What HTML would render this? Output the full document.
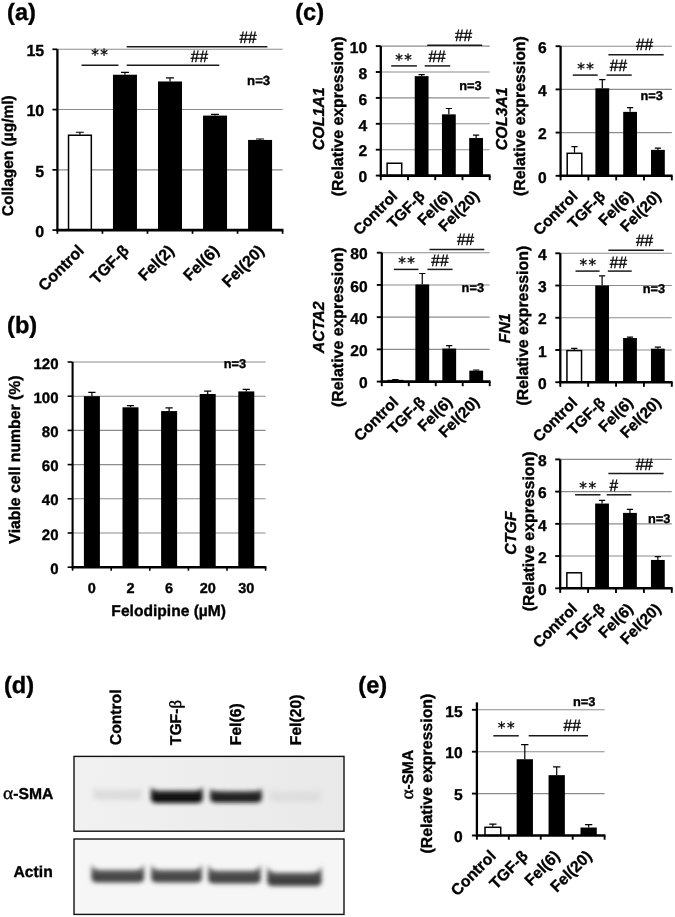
<!DOCTYPE html>
<html><head><meta charset="utf-8"><title>Figure</title>
<style>
html,body{margin:0;padding:0;background:#fff;}
body{width:675px;height:917px;overflow:hidden;}
svg{display:block;font-family:'Liberation Sans', Arial, Helvetica, sans-serif;fill:#000;text-rendering:geometricPrecision;}
svg text{stroke:#000;stroke-width:0.35px;paint-order:stroke;}
</style></head>
<body>
<svg width="675" height="917" viewBox="0 0 675 917">
<rect width="675" height="917" fill="#fff"/>
<text x="7.10" y="19.70" font-size="23.6" font-weight="bold">(a)</text>
<text x="7.10" y="332.90" font-size="23.6" font-weight="bold">(b)</text>
<text x="295.20" y="19.90" font-size="23.6" font-weight="bold">(c)</text>
<text x="4.00" y="693.10" font-size="23.6" font-weight="bold">(d)</text>
<text x="358.30" y="693.20" font-size="23.6" font-weight="bold">(e)</text>
<line x1="57.40" y1="169.83" x2="282.60" y2="169.83" stroke="#8c8c8c" stroke-width="1.1"/>
<line x1="57.40" y1="109.57" x2="282.60" y2="109.57" stroke="#8c8c8c" stroke-width="1.1"/>
<line x1="57.40" y1="49.30" x2="282.60" y2="49.30" stroke="#8c8c8c" stroke-width="1.1"/>
<rect x="68.52" y="135.24" width="22.80" height="94.86" fill="#fff" stroke="#000" stroke-width="1.5"/>
<path d="M79.92 134.64V132.23M75.92 132.23H83.92" stroke="#000" stroke-width="1.2" fill="none"/>
<rect x="112.96" y="74.73" width="24.00" height="155.37" fill="#000"/>
<path d="M124.96 74.73V72.32M120.96 72.32H128.96" stroke="#000" stroke-width="1.2" fill="none"/>
<rect x="158.00" y="81.48" width="24.00" height="148.62" fill="#000"/>
<path d="M170.00 81.48V77.87M166.00 77.87H174.00" stroke="#000" stroke-width="1.2" fill="none"/>
<rect x="203.04" y="115.59" width="24.00" height="114.51" fill="#000"/>
<path d="M215.04 115.59V114.39M211.04 114.39H219.04" stroke="#000" stroke-width="1.2" fill="none"/>
<rect x="248.08" y="139.94" width="24.00" height="90.16" fill="#000"/>
<path d="M260.08 139.94V138.98M256.08 138.98H264.08" stroke="#000" stroke-width="1.2" fill="none"/>
<line x1="57.40" y1="49.30" x2="57.40" y2="231.20" stroke="#000" stroke-width="2.3"/>
<line x1="56.30" y1="230.10" x2="283.40" y2="230.10" stroke="#000" stroke-width="2.5999999999999996"/>
<line x1="52.40" y1="230.10" x2="57.40" y2="230.10" stroke="#000" stroke-width="1.7"/>
<text x="44.20" y="236.98" font-size="16" font-weight="bold" text-anchor="end">0</text>
<line x1="52.40" y1="169.83" x2="57.40" y2="169.83" stroke="#000" stroke-width="1.7"/>
<text x="44.20" y="176.71" font-size="16" font-weight="bold" text-anchor="end">5</text>
<line x1="52.40" y1="109.57" x2="57.40" y2="109.57" stroke="#000" stroke-width="1.7"/>
<text x="44.20" y="116.45" font-size="16" font-weight="bold" text-anchor="end">10</text>
<line x1="52.40" y1="49.30" x2="57.40" y2="49.30" stroke="#000" stroke-width="1.7"/>
<text x="44.20" y="56.18" font-size="16" font-weight="bold" text-anchor="end">15</text>
<line x1="57.40" y1="230.10" x2="57.40" y2="233.80" stroke="#000" stroke-width="1.7"/>
<line x1="102.44" y1="230.10" x2="102.44" y2="233.80" stroke="#000" stroke-width="1.7"/>
<line x1="147.48" y1="230.10" x2="147.48" y2="233.80" stroke="#000" stroke-width="1.7"/>
<line x1="192.52" y1="230.10" x2="192.52" y2="233.80" stroke="#000" stroke-width="1.7"/>
<line x1="237.56" y1="230.10" x2="237.56" y2="233.80" stroke="#000" stroke-width="1.7"/>
<line x1="282.60" y1="230.10" x2="282.60" y2="233.80" stroke="#000" stroke-width="1.7"/>
<text transform="translate(84.92 251.70) rotate(-45)" font-size="16" font-weight="bold" text-anchor="end">Control</text>
<text transform="translate(129.96 251.70) rotate(-45)" font-size="16" font-weight="bold" text-anchor="end">TGF-β</text>
<text transform="translate(175.00 251.70) rotate(-45)" font-size="16" font-weight="bold" text-anchor="end">Fel(2)</text>
<text transform="translate(220.04 251.70) rotate(-45)" font-size="16" font-weight="bold" text-anchor="end">Fel(6)</text>
<text transform="translate(265.08 251.70) rotate(-45)" font-size="16" font-weight="bold" text-anchor="end">Fel(20)</text>
<line x1="81.50" y1="65.20" x2="118.50" y2="65.20" stroke="#1a1a1a" stroke-width="1.5"/>
<line x1="126.70" y1="65.20" x2="219.30" y2="65.20" stroke="#1a1a1a" stroke-width="1.5"/>
<line x1="126.70" y1="46.70" x2="267.40" y2="46.70" stroke="#1a1a1a" stroke-width="1.5"/>
<text x="91.25" y="59.55" font-size="15.2" letter-spacing="1.5" stroke="#000" stroke-width="0.45" font-family="'DejaVu Sans', sans-serif">**</text>
<text transform="translate(190.80 61.60) scale(1 1.07)" font-size="15.5" stroke="#000" stroke-width="0.4">##</text>
<text transform="translate(239.50 43.30) scale(1 1.07)" font-size="15.5" stroke="#000" stroke-width="0.4">##</text>
<text x="247.10" y="85.30" font-size="13.2" font-weight="bold">n=3</text>
<text transform="translate(12.60 155.70) rotate(-90)" font-size="15.5" font-weight="bold" text-anchor="middle">Collagen (µg/ml)</text>
<line x1="72.60" y1="533.00" x2="265.60" y2="533.00" stroke="#8c8c8c" stroke-width="1.1"/>
<line x1="72.60" y1="498.80" x2="265.60" y2="498.80" stroke="#8c8c8c" stroke-width="1.1"/>
<line x1="72.60" y1="464.60" x2="265.60" y2="464.60" stroke="#8c8c8c" stroke-width="1.1"/>
<line x1="72.60" y1="430.40" x2="265.60" y2="430.40" stroke="#8c8c8c" stroke-width="1.1"/>
<line x1="72.60" y1="396.20" x2="265.60" y2="396.20" stroke="#8c8c8c" stroke-width="1.1"/>
<line x1="72.60" y1="362.00" x2="265.60" y2="362.00" stroke="#8c8c8c" stroke-width="1.1"/>
<rect x="83.90" y="396.20" width="16.00" height="171.00" fill="#000"/>
<path d="M91.90 396.20V392.44M88.30 392.44H95.50" stroke="#000" stroke-width="1.2" fill="none"/>
<rect x="122.50" y="407.31" width="16.00" height="159.89" fill="#000"/>
<path d="M130.50 407.31V405.61M126.90 405.61H134.10" stroke="#000" stroke-width="1.2" fill="none"/>
<rect x="161.10" y="411.08" width="16.00" height="156.12" fill="#000"/>
<path d="M169.10 411.08V407.83M165.50 407.83H172.70" stroke="#000" stroke-width="1.2" fill="none"/>
<rect x="199.70" y="393.98" width="16.00" height="173.22" fill="#000"/>
<path d="M207.70 393.98V391.07M204.10 391.07H211.30" stroke="#000" stroke-width="1.2" fill="none"/>
<rect x="238.30" y="391.41" width="16.00" height="175.79" fill="#000"/>
<path d="M246.30 391.41V389.36M242.70 389.36H249.90" stroke="#000" stroke-width="1.2" fill="none"/>
<line x1="72.60" y1="362.00" x2="72.60" y2="568.30" stroke="#000" stroke-width="2.1"/>
<line x1="71.50" y1="567.20" x2="266.40" y2="567.20" stroke="#000" stroke-width="2.4"/>
<line x1="67.60" y1="567.20" x2="72.60" y2="567.20" stroke="#000" stroke-width="1.6"/>
<text x="58.50" y="573.73" font-size="15" font-weight="bold" text-anchor="end">0</text>
<line x1="67.60" y1="533.00" x2="72.60" y2="533.00" stroke="#000" stroke-width="1.6"/>
<text x="58.50" y="539.53" font-size="15" font-weight="bold" text-anchor="end">20</text>
<line x1="67.60" y1="498.80" x2="72.60" y2="498.80" stroke="#000" stroke-width="1.6"/>
<text x="58.50" y="505.32" font-size="15" font-weight="bold" text-anchor="end">40</text>
<line x1="67.60" y1="464.60" x2="72.60" y2="464.60" stroke="#000" stroke-width="1.6"/>
<text x="58.50" y="471.12" font-size="15" font-weight="bold" text-anchor="end">60</text>
<line x1="67.60" y1="430.40" x2="72.60" y2="430.40" stroke="#000" stroke-width="1.6"/>
<text x="58.50" y="436.92" font-size="15" font-weight="bold" text-anchor="end">80</text>
<line x1="67.60" y1="396.20" x2="72.60" y2="396.20" stroke="#000" stroke-width="1.6"/>
<text x="58.50" y="402.72" font-size="15" font-weight="bold" text-anchor="end">100</text>
<line x1="67.60" y1="362.00" x2="72.60" y2="362.00" stroke="#000" stroke-width="1.6"/>
<text x="58.50" y="368.52" font-size="15" font-weight="bold" text-anchor="end">120</text>
<line x1="72.60" y1="567.20" x2="72.60" y2="570.70" stroke="#000" stroke-width="1.6"/>
<line x1="111.20" y1="567.20" x2="111.20" y2="570.70" stroke="#000" stroke-width="1.6"/>
<line x1="149.80" y1="567.20" x2="149.80" y2="570.70" stroke="#000" stroke-width="1.6"/>
<line x1="188.40" y1="567.20" x2="188.40" y2="570.70" stroke="#000" stroke-width="1.6"/>
<line x1="227.00" y1="567.20" x2="227.00" y2="570.70" stroke="#000" stroke-width="1.6"/>
<line x1="265.60" y1="567.20" x2="265.60" y2="570.70" stroke="#000" stroke-width="1.6"/>
<text x="91.90" y="592.8" font-size="14.5" font-weight="bold" text-anchor="middle">0</text>
<text x="130.50" y="592.8" font-size="14.5" font-weight="bold" text-anchor="middle">2</text>
<text x="169.10" y="592.8" font-size="14.5" font-weight="bold" text-anchor="middle">6</text>
<text x="207.70" y="592.8" font-size="14.5" font-weight="bold" text-anchor="middle">20</text>
<text x="246.30" y="592.8" font-size="14.5" font-weight="bold" text-anchor="middle">30</text>
<text x="168.7" y="616.3" font-size="15.6" font-weight="bold" text-anchor="middle">Felodipine (µM)</text>
<text x="223.70" y="367.80" font-size="12.8" font-weight="bold">n=3</text>
<text transform="translate(20.40 459.50) rotate(-90)" font-size="15.8" font-weight="bold" text-anchor="middle">Viable cell number (%)</text>
<line x1="380.80" y1="149.70" x2="489.70" y2="149.70" stroke="#8c8c8c" stroke-width="1.1"/>
<line x1="380.80" y1="123.80" x2="489.70" y2="123.80" stroke="#8c8c8c" stroke-width="1.1"/>
<line x1="380.80" y1="97.90" x2="489.70" y2="97.90" stroke="#8c8c8c" stroke-width="1.1"/>
<line x1="380.80" y1="72.00" x2="489.70" y2="72.00" stroke="#8c8c8c" stroke-width="1.1"/>
<line x1="380.80" y1="46.10" x2="489.70" y2="46.10" stroke="#8c8c8c" stroke-width="1.1"/>
<rect x="387.11" y="163.25" width="14.60" height="12.35" fill="#fff" stroke="#000" stroke-width="1.5"/>
<rect x="414.74" y="76.14" width="13.80" height="99.46" fill="#000"/>
<path d="M421.64 76.14V74.59M418.53 74.59H424.74" stroke="#000" stroke-width="1.2" fill="none"/>
<rect x="441.96" y="114.35" width="13.80" height="61.25" fill="#000"/>
<path d="M448.86 114.35V108.52M445.76 108.52H451.97" stroke="#000" stroke-width="1.2" fill="none"/>
<rect x="469.19" y="138.04" width="13.80" height="37.55" fill="#000"/>
<path d="M476.09 138.04V135.20M472.98 135.20H479.19" stroke="#000" stroke-width="1.2" fill="none"/>
<line x1="380.80" y1="46.10" x2="380.80" y2="176.70" stroke="#000" stroke-width="2.3"/>
<line x1="379.70" y1="175.60" x2="490.50" y2="175.60" stroke="#000" stroke-width="2.5999999999999996"/>
<line x1="375.80" y1="175.60" x2="380.80" y2="175.60" stroke="#000" stroke-width="1.9"/>
<text x="367.20" y="182.34" font-size="15.6" font-weight="bold" text-anchor="end">0</text>
<line x1="375.80" y1="149.70" x2="380.80" y2="149.70" stroke="#000" stroke-width="1.9"/>
<text x="367.20" y="156.44" font-size="15.6" font-weight="bold" text-anchor="end">2</text>
<line x1="375.80" y1="123.80" x2="380.80" y2="123.80" stroke="#000" stroke-width="1.9"/>
<text x="367.20" y="130.54" font-size="15.6" font-weight="bold" text-anchor="end">4</text>
<line x1="375.80" y1="97.90" x2="380.80" y2="97.90" stroke="#000" stroke-width="1.9"/>
<text x="367.20" y="104.64" font-size="15.6" font-weight="bold" text-anchor="end">6</text>
<line x1="375.80" y1="72.00" x2="380.80" y2="72.00" stroke="#000" stroke-width="1.9"/>
<text x="367.20" y="78.74" font-size="15.6" font-weight="bold" text-anchor="end">8</text>
<line x1="375.80" y1="46.10" x2="380.80" y2="46.10" stroke="#000" stroke-width="1.9"/>
<text x="367.20" y="52.84" font-size="15.6" font-weight="bold" text-anchor="end">10</text>
<line x1="380.80" y1="175.60" x2="380.80" y2="180.20" stroke="#000" stroke-width="1.9"/>
<line x1="408.02" y1="175.60" x2="408.02" y2="180.20" stroke="#000" stroke-width="1.9"/>
<line x1="435.25" y1="175.60" x2="435.25" y2="180.20" stroke="#000" stroke-width="1.9"/>
<line x1="462.48" y1="175.60" x2="462.48" y2="180.20" stroke="#000" stroke-width="1.9"/>
<line x1="489.70" y1="175.60" x2="489.70" y2="180.20" stroke="#000" stroke-width="1.9"/>
<text transform="translate(398.41 197.10) rotate(-45)" font-size="15.5" font-weight="bold" text-anchor="end">Control</text>
<text transform="translate(425.64 197.10) rotate(-45)" font-size="15.5" font-weight="bold" text-anchor="end">TGF-β</text>
<text transform="translate(452.86 197.10) rotate(-45)" font-size="15.5" font-weight="bold" text-anchor="end">Fel(6)</text>
<text transform="translate(480.09 197.10) rotate(-45)" font-size="15.5" font-weight="bold" text-anchor="end">Fel(20)</text>
<line x1="391.20" y1="65.90" x2="416.90" y2="65.90" stroke="#1a1a1a" stroke-width="1.5"/>
<line x1="424.70" y1="65.90" x2="450.20" y2="65.90" stroke="#1a1a1a" stroke-width="1.5"/>
<line x1="427.20" y1="45.30" x2="482.20" y2="45.30" stroke="#1a1a1a" stroke-width="1.5"/>
<text x="395.25" y="64.65" font-size="15.2" letter-spacing="1.5" stroke="#000" stroke-width="0.45" font-family="'DejaVu Sans', sans-serif">**</text>
<text transform="translate(428.40 61.90) scale(1 1.07)" font-size="15.5" stroke="#000" stroke-width="0.4">##</text>
<text transform="translate(455.00 41.30) scale(1 1.07)" font-size="15.5" stroke="#000" stroke-width="0.4">##</text>
<text x="459.20" y="90.20" font-size="12.8" font-weight="bold">n=3</text>
<text transform="translate(342.60 116.30) rotate(-90)" font-size="15.9" font-weight="bold" text-anchor="middle">(Relative expression)</text>
<text transform="translate(324.10 118.80) rotate(-90)" font-size="15.9" font-weight="bold" text-anchor="middle" font-style="italic">COL1A1</text>
<line x1="560.60" y1="132.60" x2="671.80" y2="132.60" stroke="#8c8c8c" stroke-width="1.1"/>
<line x1="560.60" y1="89.40" x2="671.80" y2="89.40" stroke="#8c8c8c" stroke-width="1.1"/>
<line x1="560.60" y1="46.20" x2="671.80" y2="46.20" stroke="#8c8c8c" stroke-width="1.1"/>
<rect x="567.20" y="153.29" width="14.60" height="22.51" fill="#fff" stroke="#000" stroke-width="1.5"/>
<path d="M574.50 152.69V146.64M571.39 146.64H577.61" stroke="#000" stroke-width="1.2" fill="none"/>
<rect x="595.40" y="88.32" width="13.80" height="87.48" fill="#000"/>
<path d="M602.30 88.32V79.68M599.19 79.68H605.40" stroke="#000" stroke-width="1.2" fill="none"/>
<rect x="623.20" y="111.86" width="13.80" height="63.94" fill="#000"/>
<path d="M630.10 111.86V107.54M627.00 107.54H633.21" stroke="#000" stroke-width="1.2" fill="none"/>
<rect x="651.00" y="149.88" width="13.80" height="25.92" fill="#000"/>
<path d="M657.90 149.88V148.15M654.79 148.15H661.00" stroke="#000" stroke-width="1.2" fill="none"/>
<line x1="560.60" y1="46.20" x2="560.60" y2="176.90" stroke="#000" stroke-width="2.3"/>
<line x1="559.50" y1="175.80" x2="672.60" y2="175.80" stroke="#000" stroke-width="2.5999999999999996"/>
<line x1="555.60" y1="175.80" x2="560.60" y2="175.80" stroke="#000" stroke-width="1.9"/>
<text x="546.80" y="182.54" font-size="15.6" font-weight="bold" text-anchor="end">0</text>
<line x1="555.60" y1="132.60" x2="560.60" y2="132.60" stroke="#000" stroke-width="1.9"/>
<text x="546.80" y="139.34" font-size="15.6" font-weight="bold" text-anchor="end">2</text>
<line x1="555.60" y1="89.40" x2="560.60" y2="89.40" stroke="#000" stroke-width="1.9"/>
<text x="546.80" y="96.14" font-size="15.6" font-weight="bold" text-anchor="end">4</text>
<line x1="555.60" y1="46.20" x2="560.60" y2="46.20" stroke="#000" stroke-width="1.9"/>
<text x="546.80" y="52.94" font-size="15.6" font-weight="bold" text-anchor="end">6</text>
<line x1="560.60" y1="175.80" x2="560.60" y2="180.40" stroke="#000" stroke-width="1.9"/>
<line x1="588.40" y1="175.80" x2="588.40" y2="180.40" stroke="#000" stroke-width="1.9"/>
<line x1="616.20" y1="175.80" x2="616.20" y2="180.40" stroke="#000" stroke-width="1.9"/>
<line x1="644.00" y1="175.80" x2="644.00" y2="180.40" stroke="#000" stroke-width="1.9"/>
<line x1="671.80" y1="175.80" x2="671.80" y2="180.40" stroke="#000" stroke-width="1.9"/>
<text transform="translate(578.50 197.30) rotate(-45)" font-size="15.5" font-weight="bold" text-anchor="end">Control</text>
<text transform="translate(606.30 197.30) rotate(-45)" font-size="15.5" font-weight="bold" text-anchor="end">TGF-β</text>
<text transform="translate(634.10 197.30) rotate(-45)" font-size="15.5" font-weight="bold" text-anchor="end">Fel(6)</text>
<text transform="translate(661.90 197.30) rotate(-45)" font-size="15.5" font-weight="bold" text-anchor="end">Fel(20)</text>
<line x1="572.80" y1="75.10" x2="597.70" y2="75.10" stroke="#1a1a1a" stroke-width="1.5"/>
<line x1="606.50" y1="75.10" x2="631.70" y2="75.10" stroke="#1a1a1a" stroke-width="1.5"/>
<line x1="608.40" y1="54.80" x2="663.70" y2="54.80" stroke="#1a1a1a" stroke-width="1.5"/>
<text x="577.25" y="73.85" font-size="15.2" letter-spacing="1.5" stroke="#000" stroke-width="0.45" font-family="'DejaVu Sans', sans-serif">**</text>
<text transform="translate(609.80 71.30) scale(1 1.07)" font-size="15.5" stroke="#000" stroke-width="0.4">##</text>
<text transform="translate(636.00 50.00) scale(1 1.07)" font-size="15.5" stroke="#000" stroke-width="0.4">##</text>
<text x="640.50" y="100.30" font-size="12.8" font-weight="bold">n=3</text>
<text transform="translate(524.80 116.10) rotate(-90)" font-size="15.9" font-weight="bold" text-anchor="middle">(Relative expression)</text>
<text transform="translate(506.70 118.80) rotate(-90)" font-size="15.9" font-weight="bold" text-anchor="middle" font-style="italic">COL3A1</text>
<line x1="381.80" y1="349.38" x2="489.70" y2="349.38" stroke="#8c8c8c" stroke-width="1.1"/>
<line x1="381.80" y1="317.15" x2="489.70" y2="317.15" stroke="#8c8c8c" stroke-width="1.1"/>
<line x1="381.80" y1="284.93" x2="489.70" y2="284.93" stroke="#8c8c8c" stroke-width="1.1"/>
<line x1="381.80" y1="252.70" x2="489.70" y2="252.70" stroke="#8c8c8c" stroke-width="1.1"/>
<rect x="387.99" y="380.59" width="14.60" height="1.01" fill="#fff" stroke="#000" stroke-width="1.5"/>
<path d="M395.29 379.99V379.51M392.18 379.51H398.39" stroke="#000" stroke-width="1.2" fill="none"/>
<rect x="415.36" y="284.44" width="13.80" height="97.16" fill="#000"/>
<path d="M422.26 284.44V273.49M419.16 273.49H425.37" stroke="#000" stroke-width="1.2" fill="none"/>
<rect x="442.34" y="348.57" width="13.80" height="33.03" fill="#000"/>
<path d="M449.24 348.57V345.67M446.13 345.67H452.34" stroke="#000" stroke-width="1.2" fill="none"/>
<rect x="469.31" y="370.64" width="13.80" height="10.96" fill="#000"/>
<path d="M476.21 370.64V370.00M473.11 370.00H479.32" stroke="#000" stroke-width="1.2" fill="none"/>
<line x1="381.80" y1="252.70" x2="381.80" y2="382.70" stroke="#000" stroke-width="2.3"/>
<line x1="380.70" y1="381.60" x2="490.50" y2="381.60" stroke="#000" stroke-width="2.5999999999999996"/>
<line x1="376.80" y1="381.60" x2="381.80" y2="381.60" stroke="#000" stroke-width="1.9"/>
<text x="367.60" y="388.34" font-size="15.6" font-weight="bold" text-anchor="end">0</text>
<line x1="376.80" y1="349.38" x2="381.80" y2="349.38" stroke="#000" stroke-width="1.9"/>
<text x="367.60" y="356.11" font-size="15.6" font-weight="bold" text-anchor="end">20</text>
<line x1="376.80" y1="317.15" x2="381.80" y2="317.15" stroke="#000" stroke-width="1.9"/>
<text x="367.60" y="323.89" font-size="15.6" font-weight="bold" text-anchor="end">40</text>
<line x1="376.80" y1="284.93" x2="381.80" y2="284.93" stroke="#000" stroke-width="1.9"/>
<text x="367.60" y="291.66" font-size="15.6" font-weight="bold" text-anchor="end">60</text>
<line x1="376.80" y1="252.70" x2="381.80" y2="252.70" stroke="#000" stroke-width="1.9"/>
<text x="367.60" y="259.44" font-size="15.6" font-weight="bold" text-anchor="end">80</text>
<line x1="381.80" y1="381.60" x2="381.80" y2="386.20" stroke="#000" stroke-width="1.9"/>
<line x1="408.77" y1="381.60" x2="408.77" y2="386.20" stroke="#000" stroke-width="1.9"/>
<line x1="435.75" y1="381.60" x2="435.75" y2="386.20" stroke="#000" stroke-width="1.9"/>
<line x1="462.73" y1="381.60" x2="462.73" y2="386.20" stroke="#000" stroke-width="1.9"/>
<line x1="489.70" y1="381.60" x2="489.70" y2="386.20" stroke="#000" stroke-width="1.9"/>
<text transform="translate(399.29 403.10) rotate(-45)" font-size="15.5" font-weight="bold" text-anchor="end">Control</text>
<text transform="translate(426.26 403.10) rotate(-45)" font-size="15.5" font-weight="bold" text-anchor="end">TGF-β</text>
<text transform="translate(453.24 403.10) rotate(-45)" font-size="15.5" font-weight="bold" text-anchor="end">Fel(6)</text>
<text transform="translate(480.21 403.10) rotate(-45)" font-size="15.5" font-weight="bold" text-anchor="end">Fel(20)</text>
<line x1="393.90" y1="269.40" x2="418.50" y2="269.40" stroke="#1a1a1a" stroke-width="1.5"/>
<line x1="427.40" y1="269.40" x2="452.60" y2="269.40" stroke="#1a1a1a" stroke-width="1.5"/>
<line x1="429.50" y1="249.60" x2="484.30" y2="249.60" stroke="#1a1a1a" stroke-width="1.5"/>
<text x="398.25" y="268.05" font-size="15.2" letter-spacing="1.5" stroke="#000" stroke-width="0.45" font-family="'DejaVu Sans', sans-serif">**</text>
<text transform="translate(431.30 265.50) scale(1 1.07)" font-size="15.5" stroke="#000" stroke-width="0.4">##</text>
<text transform="translate(457.00 245.30) scale(1 1.07)" font-size="15.5" stroke="#000" stroke-width="0.4">##</text>
<text x="461.60" y="291.60" font-size="12.8" font-weight="bold">n=3</text>
<text transform="translate(342.60 327.10) rotate(-90)" font-size="15.9" font-weight="bold" text-anchor="middle">(Relative expression)</text>
<text transform="translate(324.10 327.30) rotate(-90)" font-size="15.9" font-weight="bold" text-anchor="middle" font-style="italic">ACTA2</text>
<line x1="560.30" y1="349.98" x2="671.80" y2="349.98" stroke="#8c8c8c" stroke-width="1.1"/>
<line x1="560.30" y1="317.75" x2="671.80" y2="317.75" stroke="#8c8c8c" stroke-width="1.1"/>
<line x1="560.30" y1="285.52" x2="671.80" y2="285.52" stroke="#8c8c8c" stroke-width="1.1"/>
<line x1="560.30" y1="253.30" x2="671.80" y2="253.30" stroke="#8c8c8c" stroke-width="1.1"/>
<rect x="566.94" y="350.58" width="14.60" height="31.62" fill="#fff" stroke="#000" stroke-width="1.5"/>
<path d="M574.24 349.98V348.36M571.13 348.36H577.34" stroke="#000" stroke-width="1.2" fill="none"/>
<rect x="595.21" y="285.52" width="13.80" height="96.67" fill="#000"/>
<path d="M602.11 285.52V275.86M599.01 275.86H605.22" stroke="#000" stroke-width="1.2" fill="none"/>
<rect x="623.09" y="338.05" width="13.80" height="44.15" fill="#000"/>
<path d="M629.99 338.05V337.08M626.88 337.08H633.09" stroke="#000" stroke-width="1.2" fill="none"/>
<rect x="650.96" y="348.69" width="13.80" height="33.51" fill="#000"/>
<path d="M657.86 348.69V347.07M654.76 347.07H660.97" stroke="#000" stroke-width="1.2" fill="none"/>
<line x1="560.30" y1="253.30" x2="560.30" y2="383.30" stroke="#000" stroke-width="2.3"/>
<line x1="559.20" y1="382.20" x2="672.60" y2="382.20" stroke="#000" stroke-width="2.5999999999999996"/>
<line x1="555.30" y1="382.20" x2="560.30" y2="382.20" stroke="#000" stroke-width="1.9"/>
<text x="546.80" y="388.94" font-size="15.6" font-weight="bold" text-anchor="end">0</text>
<line x1="555.30" y1="349.98" x2="560.30" y2="349.98" stroke="#000" stroke-width="1.9"/>
<text x="546.80" y="356.71" font-size="15.6" font-weight="bold" text-anchor="end">1</text>
<line x1="555.30" y1="317.75" x2="560.30" y2="317.75" stroke="#000" stroke-width="1.9"/>
<text x="546.80" y="324.49" font-size="15.6" font-weight="bold" text-anchor="end">2</text>
<line x1="555.30" y1="285.52" x2="560.30" y2="285.52" stroke="#000" stroke-width="1.9"/>
<text x="546.80" y="292.26" font-size="15.6" font-weight="bold" text-anchor="end">3</text>
<line x1="555.30" y1="253.30" x2="560.30" y2="253.30" stroke="#000" stroke-width="1.9"/>
<text x="546.80" y="260.04" font-size="15.6" font-weight="bold" text-anchor="end">4</text>
<line x1="560.30" y1="382.20" x2="560.30" y2="386.80" stroke="#000" stroke-width="1.9"/>
<line x1="588.17" y1="382.20" x2="588.17" y2="386.80" stroke="#000" stroke-width="1.9"/>
<line x1="616.05" y1="382.20" x2="616.05" y2="386.80" stroke="#000" stroke-width="1.9"/>
<line x1="643.92" y1="382.20" x2="643.92" y2="386.80" stroke="#000" stroke-width="1.9"/>
<line x1="671.80" y1="382.20" x2="671.80" y2="386.80" stroke="#000" stroke-width="1.9"/>
<text transform="translate(578.24 403.70) rotate(-45)" font-size="15.5" font-weight="bold" text-anchor="end">Control</text>
<text transform="translate(606.11 403.70) rotate(-45)" font-size="15.5" font-weight="bold" text-anchor="end">TGF-β</text>
<text transform="translate(633.99 403.70) rotate(-45)" font-size="15.5" font-weight="bold" text-anchor="end">Fel(6)</text>
<text transform="translate(661.86 403.70) rotate(-45)" font-size="15.5" font-weight="bold" text-anchor="end">Fel(20)</text>
<line x1="575.50" y1="271.10" x2="599.60" y2="271.10" stroke="#1a1a1a" stroke-width="1.5"/>
<line x1="607.80" y1="271.10" x2="631.70" y2="271.10" stroke="#1a1a1a" stroke-width="1.5"/>
<line x1="608.40" y1="250.30" x2="663.70" y2="250.30" stroke="#1a1a1a" stroke-width="1.5"/>
<text x="579.45" y="269.85" font-size="15.2" letter-spacing="1.5" stroke="#000" stroke-width="0.45" font-family="'DejaVu Sans', sans-serif">**</text>
<text transform="translate(609.80 267.60) scale(1 1.07)" font-size="15.5" stroke="#000" stroke-width="0.4">##</text>
<text transform="translate(636.00 246.30) scale(1 1.07)" font-size="15.5" stroke="#000" stroke-width="0.4">##</text>
<text x="642.70" y="292.50" font-size="12.8" font-weight="bold">n=3</text>
<text transform="translate(528.10 325.70) rotate(-90)" font-size="15.9" font-weight="bold" text-anchor="middle">(Relative expression)</text>
<text transform="translate(510.30 328.30) rotate(-90)" font-size="15.9" font-weight="bold" text-anchor="middle" font-style="italic">FN1</text>
<line x1="560.20" y1="556.07" x2="671.80" y2="556.07" stroke="#8c8c8c" stroke-width="1.1"/>
<line x1="560.20" y1="523.85" x2="671.80" y2="523.85" stroke="#8c8c8c" stroke-width="1.1"/>
<line x1="560.20" y1="491.62" x2="671.80" y2="491.62" stroke="#8c8c8c" stroke-width="1.1"/>
<line x1="560.20" y1="459.40" x2="671.80" y2="459.40" stroke="#8c8c8c" stroke-width="1.1"/>
<rect x="566.85" y="572.79" width="14.60" height="15.51" fill="#fff" stroke="#000" stroke-width="1.5"/>
<rect x="595.15" y="503.55" width="13.80" height="84.75" fill="#000"/>
<path d="M602.05 503.55V500.33M598.94 500.33H605.15" stroke="#000" stroke-width="1.2" fill="none"/>
<rect x="623.05" y="512.89" width="13.80" height="75.41" fill="#000"/>
<path d="M629.95 512.89V509.35M626.85 509.35H633.06" stroke="#000" stroke-width="1.2" fill="none"/>
<rect x="650.95" y="559.94" width="13.80" height="28.36" fill="#000"/>
<path d="M657.85 559.94V556.72M654.74 556.72H660.95" stroke="#000" stroke-width="1.2" fill="none"/>
<line x1="560.20" y1="459.40" x2="560.20" y2="589.40" stroke="#000" stroke-width="2.3"/>
<line x1="559.10" y1="588.30" x2="672.60" y2="588.30" stroke="#000" stroke-width="2.5999999999999996"/>
<line x1="555.20" y1="588.30" x2="560.20" y2="588.30" stroke="#000" stroke-width="1.9"/>
<text x="546.80" y="595.04" font-size="15.6" font-weight="bold" text-anchor="end">0</text>
<line x1="555.20" y1="556.07" x2="560.20" y2="556.07" stroke="#000" stroke-width="1.9"/>
<text x="546.80" y="562.81" font-size="15.6" font-weight="bold" text-anchor="end">2</text>
<line x1="555.20" y1="523.85" x2="560.20" y2="523.85" stroke="#000" stroke-width="1.9"/>
<text x="546.80" y="530.59" font-size="15.6" font-weight="bold" text-anchor="end">4</text>
<line x1="555.20" y1="491.62" x2="560.20" y2="491.62" stroke="#000" stroke-width="1.9"/>
<text x="546.80" y="498.36" font-size="15.6" font-weight="bold" text-anchor="end">6</text>
<line x1="555.20" y1="459.40" x2="560.20" y2="459.40" stroke="#000" stroke-width="1.9"/>
<text x="546.80" y="466.14" font-size="15.6" font-weight="bold" text-anchor="end">8</text>
<line x1="560.20" y1="588.30" x2="560.20" y2="592.90" stroke="#000" stroke-width="1.9"/>
<line x1="588.10" y1="588.30" x2="588.10" y2="592.90" stroke="#000" stroke-width="1.9"/>
<line x1="616.00" y1="588.30" x2="616.00" y2="592.90" stroke="#000" stroke-width="1.9"/>
<line x1="643.90" y1="588.30" x2="643.90" y2="592.90" stroke="#000" stroke-width="1.9"/>
<line x1="671.80" y1="588.30" x2="671.80" y2="592.90" stroke="#000" stroke-width="1.9"/>
<text transform="translate(578.15 609.80) rotate(-45)" font-size="15.5" font-weight="bold" text-anchor="end">Control</text>
<text transform="translate(606.05 609.80) rotate(-45)" font-size="15.5" font-weight="bold" text-anchor="end">TGF-β</text>
<text transform="translate(633.95 609.80) rotate(-45)" font-size="15.5" font-weight="bold" text-anchor="end">Fel(6)</text>
<text transform="translate(661.85 609.80) rotate(-45)" font-size="15.5" font-weight="bold" text-anchor="end">Fel(20)</text>
<line x1="575.10" y1="494.80" x2="600.50" y2="494.80" stroke="#1a1a1a" stroke-width="1.5"/>
<line x1="606.70" y1="494.80" x2="631.40" y2="494.80" stroke="#1a1a1a" stroke-width="1.5"/>
<line x1="608.40" y1="473.60" x2="663.60" y2="473.60" stroke="#1a1a1a" stroke-width="1.5"/>
<text x="579.35" y="493.25" font-size="15.2" letter-spacing="1.5" stroke="#000" stroke-width="0.45" font-family="'DejaVu Sans', sans-serif">**</text>
<text transform="translate(609.50 491.00) scale(1 1.07)" font-size="15.5" stroke="#000" stroke-width="0.4">#</text>
<text transform="translate(635.70 470.00) scale(1 1.07)" font-size="15.5" stroke="#000" stroke-width="0.4">##</text>
<text x="648.00" y="523.40" font-size="12.8" font-weight="bold">n=3</text>
<text transform="translate(533.80 531.40) rotate(-90)" font-size="15.9" font-weight="bold" text-anchor="middle">(Relative expression)</text>
<text transform="translate(516.20 533.00) rotate(-90)" font-size="15.9" font-weight="bold" text-anchor="middle" font-style="italic">CTGF</text>
<line x1="476.90" y1="793.60" x2="604.60" y2="793.60" stroke="#8c8c8c" stroke-width="1.1"/>
<line x1="476.90" y1="751.70" x2="604.60" y2="751.70" stroke="#8c8c8c" stroke-width="1.1"/>
<line x1="476.90" y1="709.80" x2="604.60" y2="709.80" stroke="#8c8c8c" stroke-width="1.1"/>
<rect x="485.01" y="827.30" width="15.70" height="8.20" fill="#fff" stroke="#000" stroke-width="1.5"/>
<path d="M492.86 826.70V824.19M489.19 824.19H496.53" stroke="#000" stroke-width="1.2" fill="none"/>
<rect x="516.64" y="759.24" width="16.30" height="76.26" fill="#000"/>
<path d="M524.79 759.24V744.58M521.12 744.58H528.46" stroke="#000" stroke-width="1.2" fill="none"/>
<rect x="548.56" y="775.16" width="16.30" height="60.34" fill="#000"/>
<path d="M556.71 775.16V766.78M553.04 766.78H560.38" stroke="#000" stroke-width="1.2" fill="none"/>
<rect x="580.49" y="827.54" width="16.30" height="7.96" fill="#000"/>
<path d="M588.64 827.54V824.61M584.97 824.61H592.31" stroke="#000" stroke-width="1.2" fill="none"/>
<line x1="476.90" y1="702.40" x2="476.90" y2="836.60" stroke="#000" stroke-width="2.3"/>
<line x1="475.80" y1="835.50" x2="605.40" y2="835.50" stroke="#000" stroke-width="2.5999999999999996"/>
<line x1="471.90" y1="835.50" x2="476.90" y2="835.50" stroke="#000" stroke-width="1.9"/>
<text x="462.70" y="842.24" font-size="15.6" font-weight="bold" text-anchor="end">0</text>
<line x1="471.90" y1="793.60" x2="476.90" y2="793.60" stroke="#000" stroke-width="1.9"/>
<text x="462.70" y="800.34" font-size="15.6" font-weight="bold" text-anchor="end">5</text>
<line x1="471.90" y1="751.70" x2="476.90" y2="751.70" stroke="#000" stroke-width="1.9"/>
<text x="462.70" y="758.44" font-size="15.6" font-weight="bold" text-anchor="end">10</text>
<line x1="471.90" y1="709.80" x2="476.90" y2="709.80" stroke="#000" stroke-width="1.9"/>
<text x="462.70" y="716.54" font-size="15.6" font-weight="bold" text-anchor="end">15</text>
<line x1="476.90" y1="835.50" x2="476.90" y2="839.70" stroke="#000" stroke-width="1.9"/>
<line x1="508.82" y1="835.50" x2="508.82" y2="839.70" stroke="#000" stroke-width="1.9"/>
<line x1="540.75" y1="835.50" x2="540.75" y2="839.70" stroke="#000" stroke-width="1.9"/>
<line x1="572.67" y1="835.50" x2="572.67" y2="839.70" stroke="#000" stroke-width="1.9"/>
<line x1="604.60" y1="835.50" x2="604.60" y2="839.70" stroke="#000" stroke-width="1.9"/>
<text transform="translate(496.86 857.00) rotate(-45)" font-size="15.8" font-weight="bold" text-anchor="end">Control</text>
<text transform="translate(528.79 857.00) rotate(-45)" font-size="15.8" font-weight="bold" text-anchor="end">TGF-β</text>
<text transform="translate(560.71 857.00) rotate(-45)" font-size="15.8" font-weight="bold" text-anchor="end">Fel(6)</text>
<text transform="translate(592.64 857.00) rotate(-45)" font-size="15.8" font-weight="bold" text-anchor="end">Fel(20)</text>
<line x1="493.30" y1="735.80" x2="518.80" y2="735.80" stroke="#1a1a1a" stroke-width="1.5"/>
<line x1="528.70" y1="735.80" x2="588.10" y2="735.80" stroke="#1a1a1a" stroke-width="1.5"/>
<text x="497.85" y="732.65" font-size="15.2" letter-spacing="1.5" stroke="#000" stroke-width="0.45" font-family="'DejaVu Sans', sans-serif">**</text>
<text transform="translate(563.60 730.60) scale(1 1.07)" font-size="15.5" stroke="#000" stroke-width="0.4">##</text>
<text x="572.90" y="706.30" font-size="12.8" font-weight="bold">n=3</text>
<text transform="translate(431.60 773.60) rotate(-90)" font-size="15.9" font-weight="bold" text-anchor="middle">(Relative expression)</text>
<g transform="translate(412.8 799.0) rotate(-90)"><text transform="scale(1.08 1)" x="-0.5" y="0" font-size="18" stroke-width="0.15" font-family="'Liberation Serif', serif">α</text><text x="9.6" y="0" font-size="15.5" font-weight="bold">-SMA</text></g>
<defs><filter id="b1" x="-20%" y="-100%" width="140%" height="300%"><feGaussianBlur stdDeviation="2.0"/></filter><filter id="b2" x="-20%" y="-100%" width="140%" height="300%"><feGaussianBlur stdDeviation="2.6"/></filter><linearGradient id="g1" x1="0" y1="0" x2="1" y2="0"><stop offset="0" stop-color="#f1f1f1"/><stop offset="1" stop-color="#e9e9e9"/></linearGradient><clipPath id="c1"><rect x="74" y="756.4" width="270" height="74.8"/></clipPath><clipPath id="c2"><rect x="74" y="839" width="270" height="75.4"/></clipPath></defs>
<rect x="74" y="756.4" width="270" height="74.8" fill="url(#g1)"/>
<rect x="74" y="839" width="270" height="75.4" fill="#f6f6f6"/>
<g clip-path="url(#c1)">
<linearGradient id="bg1" x1="0" y1="0" x2="0" y2="1"><stop offset="0" stop-color="#c9c9c9"/><stop offset="0.65" stop-color="#c0c0c0"/><stop offset="1" stop-color="#c0c0c0"/></linearGradient>
<path d="M93.2 787.5 C94.7 789.5 100.2 789.5 107.2 789.5 L127.9 789.5 C134.9 789.5 140.4 789.5 141.9 787.5 L141.9 795.5 Q141.9 800.0 135.4 800.0 L99.7 800.0 Q93.2 800.0 93.2 795.5 Z" fill="url(#bg1)" fill-opacity="0.42" stroke="none" filter="url(#b2)"/>
<linearGradient id="bg2" x1="0" y1="0" x2="0" y2="1"><stop offset="0" stop-color="#3a3a3a"/><stop offset="0.65" stop-color="#101010"/><stop offset="1" stop-color="#101010"/></linearGradient>
<path d="M150.9 786.4 C152.4 790.8 157.9 790.8 164.9 790.8 L188.7 790.8 C195.7 790.8 201.2 790.8 202.7 786.4 L202.7 798.4 Q202.7 802.9 196.2 802.9 L157.4 802.9 Q150.9 802.9 150.9 798.4 Z" fill="url(#bg2)" fill-opacity="1" stroke="none" filter="url(#b1)"/>
<linearGradient id="bg3" x1="0" y1="0" x2="0" y2="1"><stop offset="0" stop-color="#4a4a4a"/><stop offset="0.65" stop-color="#1c1c1c"/><stop offset="1" stop-color="#1c1c1c"/></linearGradient>
<path d="M210.1 788.6 C211.6 791.2 217.1 791.2 224.1 791.2 L247.9 791.2 C254.9 791.2 260.4 791.2 261.9 788.6 L261.9 798.1 Q261.9 802.6 255.4 802.6 L216.6 802.6 Q210.1 802.6 210.1 798.1 Z" fill="url(#bg3)" fill-opacity="1" stroke="none" filter="url(#b1)"/>
<linearGradient id="bg4" x1="0" y1="0" x2="0" y2="1"><stop offset="0" stop-color="#cfcfcf"/><stop offset="0.65" stop-color="#c6c6c6"/><stop offset="1" stop-color="#c6c6c6"/></linearGradient>
<path d="M269.5 789.5 C271.0 790.5 276.5 790.5 283.5 790.5 L307.0 790.5 C314.0 790.5 319.5 790.5 321.0 789.5 L321.0 797.5 Q321.0 802.0 314.5 802.0 L276.0 802.0 Q269.5 802.0 269.5 797.5 Z" fill="url(#bg4)" fill-opacity="0.36" stroke="none" filter="url(#b2)"/>
</g><g clip-path="url(#c2)">
<linearGradient id="bg5" x1="0" y1="0" x2="0" y2="1"><stop offset="0" stop-color="#858585"/><stop offset="0.65" stop-color="#444"/><stop offset="1" stop-color="#444"/></linearGradient>
<path d="M91.4 863.4 C92.9 870.1 98.4 870.1 105.4 870.1 L130.1 870.1 C137.1 870.1 142.6 870.1 144.1 863.4 L144.1 878.0 Q144.1 882.5 137.6 882.5 L97.9 882.5 Q91.4 882.5 91.4 878.0 Z" fill="url(#bg5)" fill-opacity="1" stroke="none" filter="url(#b1)"/>
<linearGradient id="bg6" x1="0" y1="0" x2="0" y2="1"><stop offset="0" stop-color="#858585"/><stop offset="0.65" stop-color="#444"/><stop offset="1" stop-color="#444"/></linearGradient>
<path d="M151.2 863.4 C152.7 870.1 158.2 870.1 165.2 870.1 L187.9 870.1 C194.9 870.1 200.4 870.1 201.9 863.4 L201.9 878.0 Q201.9 882.5 195.4 882.5 L157.7 882.5 Q151.2 882.5 151.2 878.0 Z" fill="url(#bg6)" fill-opacity="1" stroke="none" filter="url(#b1)"/>
<linearGradient id="bg7" x1="0" y1="0" x2="0" y2="1"><stop offset="0" stop-color="#858585"/><stop offset="0.65" stop-color="#444"/><stop offset="1" stop-color="#444"/></linearGradient>
<path d="M208.2 863.4 C209.7 870.7 215.2 870.7 222.2 870.7 L246.8 870.7 C253.8 870.7 259.3 870.7 260.8 863.4 L260.8 879.1 Q260.8 883.6 254.3 883.6 L214.7 883.6 Q208.2 883.6 208.2 879.1 Z" fill="url(#bg7)" fill-opacity="1" stroke="none" filter="url(#b1)"/>
<linearGradient id="bg8" x1="0" y1="0" x2="0" y2="1"><stop offset="0" stop-color="#808080"/><stop offset="0.65" stop-color="#414141"/><stop offset="1" stop-color="#414141"/></linearGradient>
<path d="M267.2 864.7 C268.7 872.7 274.2 872.7 281.2 872.7 L307.6 872.7 C314.6 872.7 320.1 872.7 321.6 864.7 L321.6 881.6 Q321.6 886.1 315.1 886.1 L273.7 886.1 Q267.2 886.1 267.2 881.6 Z" fill="url(#bg8)" fill-opacity="1" stroke="none" filter="url(#b1)"/>
</g>
<rect x="74" y="756.4" width="270" height="74.8" fill="none" stroke="#111" stroke-width="1.4"/>
<rect x="74" y="839" width="270" height="75.4" fill="none" stroke="#111" stroke-width="1.4"/>
<text transform="translate(121.2 745.2) rotate(-90)" font-size="15.7" font-weight="bold">Control</text>
<text transform="translate(181.0 745.2) rotate(-90)" font-size="15.7" font-weight="bold">TGF-<tspan font-weight="normal" stroke-width="0.5" font-family="'Liberation Serif', serif" font-size="16.8">β</tspan></text>
<text transform="translate(240.5 745.2) rotate(-90)" font-size="15.7" font-weight="bold">Fel(6)</text>
<text transform="translate(301.3 745.2) rotate(-90)" font-size="15.7" font-weight="bold">Fel(20)</text>
<text transform="translate(3.1 798.8) scale(1.08 1)" font-size="18" stroke-width="0.15" font-family="'Liberation Serif', serif">α</text><text x="13.2" y="798.8" font-size="15.7" font-weight="bold">-SMA</text>
<text x="13.5" y="877.3" font-size="15.7" font-weight="bold">Actin</text>
</svg>
</body></html>
